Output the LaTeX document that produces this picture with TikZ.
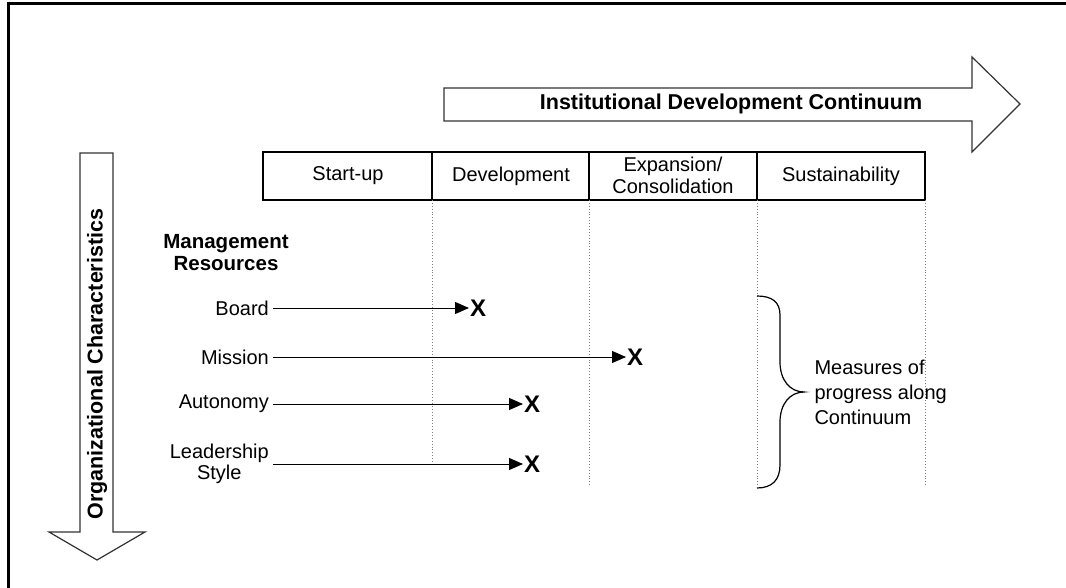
\documentclass[tikz,border=0pt]{standalone}
\usepackage{fontspec}
\setmainfont{Liberation Sans}
\usetikzlibrary{arrows.meta}

\begin{document}
\begin{tikzpicture}[x=1pt,y=-1pt,font=\fontsize{20}{23}\selectfont,
    itemlabel/.style={anchor=east,align=center,inner sep=4pt},
    xmarker/.style={anchor=west,inner sep=1pt,font=\fontsize{24}{24}\selectfont\bfseries},
    progress/.style={-{Triangle[length=14pt,width=12pt]},line width=1pt},
    stagegrid/.style={gray,dotted,line width=0.9pt},
    bigarrow/.style={draw=black!80,line width=1.2pt,fill=white}]
    \useasboundingbox (0,0) rectangle (1066,588);
    % set coordinates
    \coordinate (TL) at (8,4);
    \coordinate (S0) at (263,152);
    \coordinate (S1) at (432,200);
    \coordinate (S2) at (589,200);
    \coordinate (S3) at (757,200);
    \coordinate (S4) at (925,200);
    % draw frame
    \draw [line width=3pt] (8,588) -- (TL) -- (1066,4);
    % draw big arrows
    \draw [bigarrow] (444,88) -- (972,88) -- (972,57) -- (1020,104)
        -- (972,152) -- (972,121) -- (444,121) -- cycle;
    \draw [bigarrow] (80,153) -- (113,153) -- (113,532) -- (145,532)
        -- (97,560) -- (49,532) -- (80,532) -- cycle;
    % draw stage table
    \draw [line width=1.2pt] (S0) rectangle (S4);
    \draw [line width=1.2pt] (432,152) -- (S1);
    \draw [line width=1.2pt] (589,152) -- (S2);
    \draw [line width=1.2pt] (757,152) -- (S3);
    \draw [stagegrid] (S1) -- (432,462);
    \draw [stagegrid] (S2) -- (589,487);
    \draw [stagegrid] (S3) -- (757,487);
    \draw [stagegrid] (S4) -- (925,487);
    % draw brace
    \draw [line width=1.2pt] (757,296) .. controls (772,296) and (780,302) .. (780,315)
        -- (780,362) .. controls (780,380) and (790,392) .. (804,392)
        .. controls (790,392) and (780,404) .. (780,422)
        -- (780,465) .. controls (780,480) and (772,488) .. (757,488);
    % add labels
    \node [font=\fontsize{21.5}{23}\selectfont\bfseries] (idc) at (731,104) {Institutional Development Continuum};
    \node [font=\fontsize{21.5}{23}\selectfont\bfseries,rotate=90] (orgc) at (97,364) {Organizational Characteristics};
    \node (startup) at (348,176) {Start-up};
    \node (devel) at (511,176) {Development};
    \node [align=center,font=\fontsize{20}{22}\selectfont] (expan) at (673,175) {Expansion/\\Consolidation};
    \node (sustain) at (841,176) {Sustainability};
    \node [align=center,font=\fontsize{20.5}{22}\selectfont\bfseries] (mgmt) at (226,253) {Management\\Resources};
    \node [align=left,anchor=west,font=\fontsize{20}{25}\selectfont] (measures) at (811,392) {Measures of\\progress along\\Continuum};
    % items and markers
    \node [itemlabel] (board) at (273,308) {Board};
    \node [itemlabel] (mission) at (273,357) {Mission};
    \node [itemlabel] (auton) at (273,404) {Autonomy};
    \node [itemlabel,font=\fontsize{20}{21}\selectfont] (leader) at (273,464) {Leadership\\Style};
    \node [xmarker] (xboard) at (469,308) {X};
    \node [xmarker] (xmission) at (626,357) {X};
    \node [xmarker] (xauton) at (523,404) {X};
    \node [xmarker] (xleader) at (523,464) {X};
    \draw [progress] (board.east) -- (xboard.west);
    \draw [progress] (mission.east) -- (xmission.west);
    \draw [progress] (auton.east) -- (xauton.west);
    \draw [progress] (leader.east) -- (xleader.west);
\end{tikzpicture}
\end{document}
